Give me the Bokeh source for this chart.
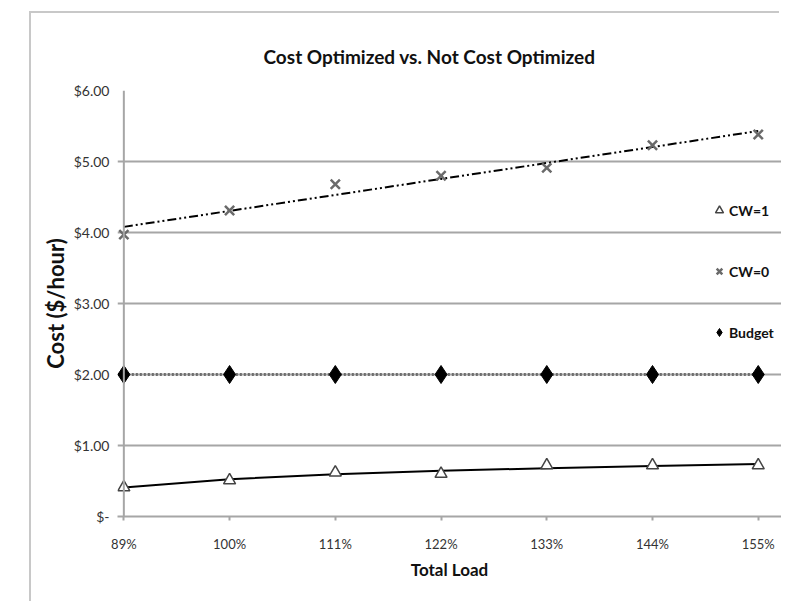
import numpy as np
from bokeh.plotting import figure
from bokeh.models import FixedTicker, Legend, LegendItem, Range1d, Span
from bokeh.embed import file_html
from bokeh.resources import INLINE

loads = ["89%", "100%", "111%", "122%", "133%", "144%", "155%"]
cw1 = [0.41, 0.51, 0.62, 0.60, 0.72, 0.72, 0.72]
cw0 = [3.97, 4.31, 4.68, 4.80, 4.91, 5.23, 5.38]
budget = [2.00, 2.00, 2.00, 2.00, 2.00, 2.00, 2.00]
y_ticks = [0, 1, 2, 3, 4, 5, 6]
y_labels = ["$-", "$1.00", "$2.00", "$3.00", "$4.00", "$5.00", "$6.00"]

xs = list(range(len(loads)))

# Excel-style trend lines computed from the data
lin = np.polyfit(xs, cw0, 1)
cw0_trend = list(np.polyval(lin, xs))
lnx = np.log(np.arange(1, len(loads) + 1))
lg = np.polyfit(lnx, cw1, 1)
cw1_trend = list(np.polyval(lg, lnx))

FONT = "Lato"

p = figure(width=750, height=590, output_backend="svg", toolbar_location=None,
           x_range=Range1d(-0.06, 6.22), y_range=Range1d(0, 6),
           min_border_left=86, min_border_right=0, min_border_top=77,
           min_border_bottom=87, margin=(13, 0, 0, 31))
p.styles = {"box-shadow": "-2px -2px 0 0 #c8c8c8"}
p.outline_line_color = None
p.background_fill_color = "white"
p.border_fill_color = "white"

p.title.text = "Cost Optimized vs. Not Cost Optimized"
p.title.text_font = FONT
p.title.text_font_size = "19px"
p.title.text_font_style = "bold"
p.title.text_color = "#111111"
p.title.align = "left"
p.title.offset = 146
p.title.standoff = 46

# axes
p.xaxis.ticker = FixedTicker(ticks=xs)
p.xaxis.major_label_overrides = {i: l for i, l in enumerate(loads)}
p.yaxis.ticker = FixedTicker(ticks=y_ticks)
p.yaxis.major_label_overrides = {t: l for t, l in zip(y_ticks, y_labels)}
for ax in (p.xaxis, p.yaxis):
    ax.axis_line_color = "#a6a6a6"
    ax.axis_line_width = 2
    ax.major_tick_line_color = "#a6a6a6"
    ax.major_tick_line_width = 2
    ax.minor_tick_line_color = None
    ax.major_tick_in = 0
    ax.major_label_text_font = FONT
    ax.major_label_text_font_size = "13px"
    ax.major_label_text_color = "#333333"
    ax.axis_label_text_font = FONT
    ax.axis_label_text_font_style = "bold"
    ax.axis_label_text_color = "#111111"
p.xaxis.major_tick_out = 4
p.xaxis.major_label_standoff = 15
p.xaxis.axis_label = "Total Load"
p.xaxis.axis_label_text_font_size = "17px"
p.xaxis.axis_label_standoff = 4
p.yaxis.axis_line_color = None
p.yaxis.major_tick_out = 0
p.yaxis.major_tick_line_color = None
p.yaxis.major_label_text_font_size = "14px"
p.yaxis.major_label_standoff = 8
p.yaxis.axis_label = "Cost ($/hour)"
p.yaxis.axis_label_text_font_size = "22px"
p.yaxis.axis_label_standoff = 2

p.xgrid.grid_line_color = None
p.ygrid.grid_line_color = "#a6a6a6"
p.ygrid.grid_line_width = 2

# value axis line sits at the first category
p.add_layout(Span(location=0, dimension="height", line_color="#a6a6a6",
                  line_width=2))

# series
p.line(xs, budget, line_color="#6e6e6e", line_width=3, line_dash="2 2")
r_b = p.scatter(xs, budget, marker="diamond", size=18, fill_color="black",
                line_color="black")

p.line(xs, cw0_trend, line_color="black", line_width=2, line_dash="9 3 2 3 2 3")
r_0 = p.scatter(xs, cw0, marker="x", size=13, line_color="#6a6a6a", line_width=2.5)

p.line(xs, cw1_trend, line_color="black", line_width=2)
r_1 = p.scatter(xs, cw1, marker="triangle", size=12, fill_color="white",
                line_color="#444444", line_width=1.5)

legend = Legend(items=[LegendItem(label="CW=1", renderers=[r_1]),
                       LegendItem(label="CW=0", renderers=[r_0]),
                       LegendItem(label="Budget", renderers=[r_b])],
                location=(592, 174), orientation="vertical",
                background_fill_alpha=0, border_line_color=None,
                padding=0, margin=0, spacing=41,
                glyph_width=20, glyph_height=20, label_height=20,
                label_standoff=0,
                label_text_font=FONT, label_text_font_size="14px",
                label_text_font_style="bold", label_text_color="#111111")
p.add_layout(legend)

open("out.html", "w").write(file_html(p, INLINE))
